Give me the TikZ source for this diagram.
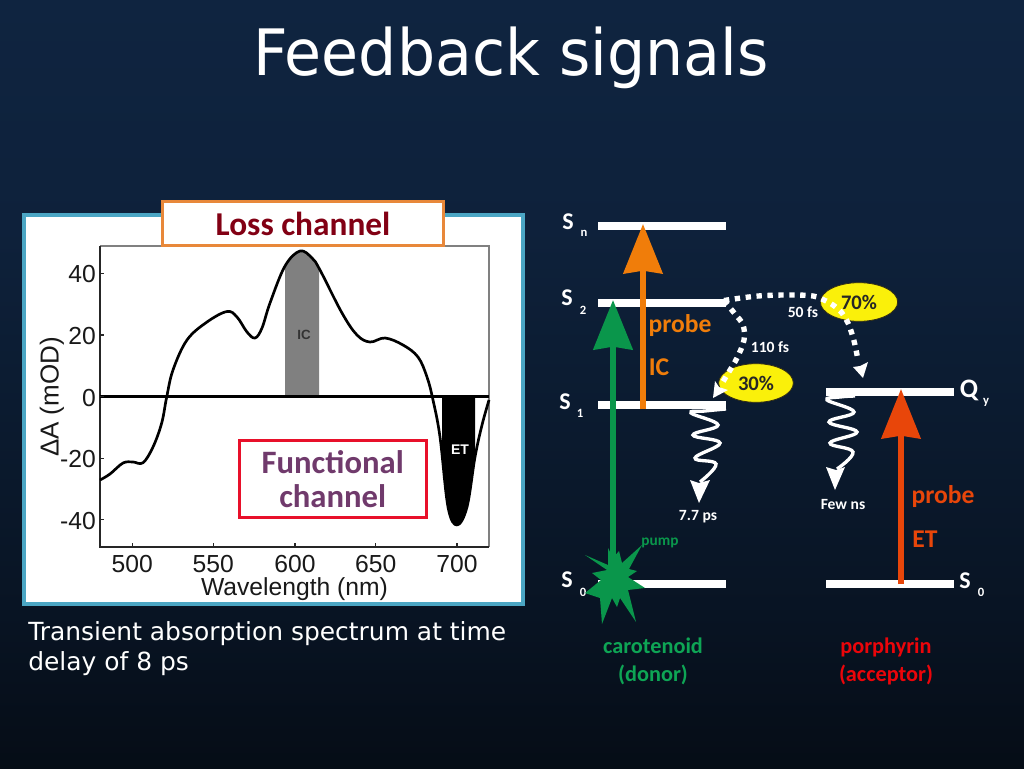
\documentclass[tikz,border=0pt]{standalone}
\usepackage{fontspec}
\setmainfont{Carlito}
\newfontfamily\uifont{DejaVu Sans}
\newfontfamily\titlefont[FakeStretch=0.94]{DejaVu Sans}
\newfontfamily\plotfont{Liberation Sans}
\usetikzlibrary{arrows.meta,shapes.geometric}
\definecolor{bgtop}{RGB}{15,36,64}
\definecolor{panelblue}{RGB}{75,166,196}
\definecolor{lossorange}{RGB}{232,136,58}
\definecolor{lossred}{RGB}{130,0,20}
\definecolor{funcred}{RGB}{232,16,42}
\definecolor{funcpurple}{RGB}{112,58,108}
\definecolor{probeorange}{RGB}{240,125,10}
\definecolor{etorange}{RGB}{232,70,10}
\definecolor{pumpgreen}{RGB}{10,150,75}
\definecolor{donorgreen}{RGB}{14,165,85}
\definecolor{acceptred}{RGB}{235,5,10}
\definecolor{ellyellow}{RGB}{250,240,10}
\definecolor{elledge}{RGB}{50,45,20}
\pgfdeclareverticalshading{slidebg}{100bp}{
 color(0bp)=(black);
 color(8bp)=(black);
 color(35bp)=(bgtop!55!black);
 color(60bp)=(bgtop!92!black);
 color(75bp)=(bgtop);
 color(100bp)=(bgtop)}
\newcommand{\fsz}[1]{\fontsize{#1}{#1}\selectfont}
\tikzset{
 lvl/.style={fill=white,draw=none,minimum width=96pt,minimum height=6pt,inner sep=0pt,outer sep=0pt},
 sym/.style={text=white,font=\bfseries\fsz{18},inner sep=0pt},
 subsym/.style={text=white,font=\bfseries\fsz{9.5},inner sep=0pt},
 small/.style={text=white,font=\bfseries\fsz{11.7},inner sep=0pt},
 bigarrow/.style={line width=#1,-{Stealth[length=37pt,width=29pt,inset=2pt]}},
 wave/.style={white,line width=2.5pt,smooth,tension=0.7},
 dotted arrow/.style={white,line width=4pt,dash pattern=on 4pt off 4.2pt},
 tipw/.style={fill=white,draw=none},
 percent/.style={ellipse,fill=ellyellow,draw=elledge,line width=0.6pt,inner sep=0pt,text=black!85,font=\bfseries\fsz{15.5}},
 ticklab/.style={font=\plotfont\fsz{18.5},text=black!90,inner sep=0pt},
 biglab/.style={font=\bfseries\fsz{19.2},inner sep=0pt},
}
\begin{document}
\begin{tikzpicture}[x=0.75pt,y=-0.75pt]
\useasboundingbox (0,0) rectangle (1024,768);
\shade[shading=slidebg] (0,0) rectangle (1024,768);
% title and caption
\node[name=title,anchor=base,text=white,font=\titlefont\fsz{48},inner sep=0pt] at (511,75) {Feedback signals};
\node[name=cap1,anchor=base west,text=white,font=\uifont\fsz{18.7},inner sep=0pt] at (28,640) {Transient absorption spectrum at time};
\node[name=cap2,anchor=base west,text=white,font=\uifont\fsz{18.7},inner sep=0pt] at (28,670) {delay of 8 ps};
% panel
\draw[panelblue,line width=3pt,fill=white] (23.5,215) rectangle (523,604);
% plot
\def\speccurve{(100,480) (110,474) (123,463) (133,462) (143,462.7) (153,447) (161.7,423) (166.7,397) (173,370) (187,340) (207,322) (227,311.5) (237,317) (247,332) (255,338) (262,328) (270,303) (285,266) (300,251) (312,258) (320,270) (342,313) (357,335) (370,342) (385,338) (403,345) (418,357) (427,377) (433,400) (440,437) (448,507) (457,525) (467,507) (475,457) (482,425) (489,400)}
\begin{scope}
\clip (285,240) rectangle (319,396.7);
\fill[black!50] plot[smooth,tension=0.6] coordinates {\speccurve} -- (489,396.7) -- (100,396.7) -- cycle;
\end{scope}
\begin{scope}
\clip (442,396.7) rectangle (475,540);
\fill[black] plot[smooth,tension=0.6] coordinates {\speccurve} -- (489,396.7) -- (100,396.7) -- cycle;
\end{scope}
\draw[black!50,line width=0.9pt] (100,246) -- (489,246) -- (489,547);
\draw[black!85,line width=1.1pt] (100,246) -- (100,547) -- (489,547);
\draw[black,line width=1.9pt] (100,396.7) -- (489,396.7);
\draw[black,line width=2pt,line join=round] plot[smooth,tension=0.6] coordinates {\speccurve};
\foreach \yy in {273.3,335,396.7,458.3,519.5}{\draw[black!85,line width=0.9pt] (100,\yy) -- (104,\yy);}
\foreach \xx in {132.3,213.3,295,375.7,457}{\draw[black!85,line width=0.9pt] (\xx,547) -- (\xx,543);}
\node[name=y40,ticklab,anchor=east] at (96,274) {40};
\node[name=y20,ticklab,anchor=east] at (96,336) {20};
\node[name=y0,ticklab,anchor=east] at (96,398) {0};
\node[name=ym20,ticklab,anchor=east] at (96,459) {-20};
\node[name=ym40,ticklab,anchor=east] at (96,521) {-40};
\node[name=x500,ticklab] at (132.3,564) {500};
\node[name=x550,ticklab] at (213.3,564) {550};
\node[name=x600,ticklab] at (295,564) {600};
\node[name=x650,ticklab] at (375.7,564) {650};
\node[name=x700,ticklab] at (457,564) {700};
\node[name=xlab,ticklab] at (294.5,589) {Wavelength (nm)};
\node[name=ylab,ticklab,rotate=90,font=\plotfont\fsz{19.5}] at (52,397) {ΔA (mOD)};
\node[name=ic,font=\plotfont\bfseries\fsz{10},text=black!80,inner sep=0pt] at (304,335) {IC};
\node[name=et,font=\plotfont\bfseries\fsz{10.5},text=white,inner sep=0pt] at (460,450) {ET};
% channel boxes
\node[name=loss,draw=lossorange,line width=2.2pt,fill=white,minimum width=211pt,minimum height=33pt,inner sep=0pt,text=lossred,font=\bfseries\fsz{25}] at (303,223.5) {Loss channel};
\node[name=func,draw=funcred,line width=2.2pt,minimum width=140pt,minimum height=58pt,inner sep=0pt,align=center,text=funcpurple,font=\bfseries\fontsize{24.5}{25.5}\selectfont] at (332.7,479) {Functional\\channel};
% levels
\node[lvl,name=Sn] at (662,226) {};
\node[lvl,name=S2] at (662,302.5) {};
\node[lvl,name=S1] at (662,405) {};
\node[lvl,name=S0] at (662,584) {};
\node[lvl,name=Qy] at (890,392) {};
\node[lvl,name=S0r] at (890,584) {};
% level names
\node[sym,name=lSn] at (568,222) {S}; \node[subsym,name=sSn] at (584,233) {n};
\node[sym,name=lS2] at (567,298) {S}; \node[subsym,name=sS2] at (583,310) {2};
\node[sym,name=lS1] at (565,402) {S}; \node[subsym,name=sS1] at (580,413) {1};
\node[sym,name=lS0] at (567,580) {S}; \node[subsym,name=sS0] at (583,592) {0};
\node[sym,name=lQ,font=\bfseries\fsz{20}] at (969,390) {Q}; \node[subsym,name=sQ] at (986,402) {y};
\node[sym,name=lS0r] at (965,581) {S}; \node[subsym,name=sS0r] at (981,592) {0};
% arrows
\coordinate (gbot) at (613,590);
\coordinate (gtop) at (613,300);
\coordinate (obot) at (643,409);
\coordinate (otop) at (643,224);
\coordinate (rbot) at (901,584);
\coordinate (rtop) at (901,389);
\draw[bigarrow=5pt,pumpgreen] (gbot) -- (gtop);
\draw[bigarrow=4.5pt,probeorange] (obot) -- (otop);
\draw[bigarrow=4.5pt,etorange] (rbot) -- (rtop);
% burst
\fill[pumpgreen] (585,555) -- (608,565) -- (608,548) -- (613,558) -- (619,551) -- (622,563) -- (642,545) -- (629,569) -- (637,571) -- (628,577) -- (645,588) -- (628,590) -- (636,622) -- (620,598) -- (617,607) -- (612,598) -- (602,624) -- (600,598) -- (585,593) -- (601,580) -- (592,573) -- (607,570) -- cycle;
% labels
\node[name=probe1,text=probeorange,biglab] at (680,325.5) {probe};
\node[name=ic2,text=probeorange,biglab] at (659,367.5) {IC};
\node[name=probe2,text=etorange,biglab] at (943,496.5) {probe};
\node[name=et2,text=etorange,biglab] at (925,539.5) {ET};
\node[name=pump,text=pumpgreen,font=\bfseries\fsz{11.5},inner sep=0pt] at (660,542.5) {pump};
\node[small,name=t110] at (770,347) {110 fs};
\node[small,name=t50] at (803,312) {50 fs};
\node[small,name=t77] at (698,517) {7.7 ps};
\node[small,name=tfew] at (843,504) {Few ns};
\node[name=car,align=center,text=donorgreen,font=\bfseries\fontsize{16.7}{21}\selectfont,inner sep=0pt] at (653,661) {carotenoid\\(donor)};
\node[name=por,align=center,text=acceptred,font=\bfseries\fontsize{16.7}{21}\selectfont,inner sep=0pt] at (886,661) {porphyrin\\(acceptor)};
% ellipses
\node[percent,name=e30,minimum width=56pt,minimum height=29pt] at (756,383) {30\%};
\node[percent,name=e70,minimum width=58pt,minimum height=29pt] at (859,302) {70\%};
% wavy relaxations
\coordinate (w1a) at (726,409);
\coordinate (w1b) at (699,503);
\coordinate (w2a) at (855,396);
\coordinate (w2b) at (835,490);
\draw[wave] plot coordinates {(w1a) (705,411) (691,413) (718,425) (693,435) (720,443) (695,458) (716,464) (700,482)};
\fill[tipw] (w1b) -- (690,480) -- (699,483) -- (710,480) -- cycle;
\draw[wave] plot coordinates {(w2a) (840,397) (827,400) (854,412) (829,422) (857,432) (830,443) (853,452) (837,469)};
\fill[tipw] (w2b) -- (826,467) -- (836,470) -- (845,467) -- cycle;
% dotted transfers
\coordinate (dstart) at (724,300.5);
\coordinate (d30) at (713,398);
\coordinate (d70) at (863,378);
\draw[dotted arrow] plot[smooth,tension=0.6] coordinates {(dstart) (735,314) (743,325) (744,340) (737,358) (727,375) (721,385)};
\fill[tipw] (d30) -- (715,381) -- (719,387) -- (728,390) -- cycle;
\draw[dotted arrow] plot[smooth,tension=0.6] coordinates {(dstart) (758,296) (792,295) (813,296) (824,300) (833,305) (842,313) (848,323) (852,334) (855,345) (858,360)};
\fill[tipw] (d70) -- (853,367) -- (860,366) -- (868,362) -- cycle;
\end{tikzpicture}
\end{document}
